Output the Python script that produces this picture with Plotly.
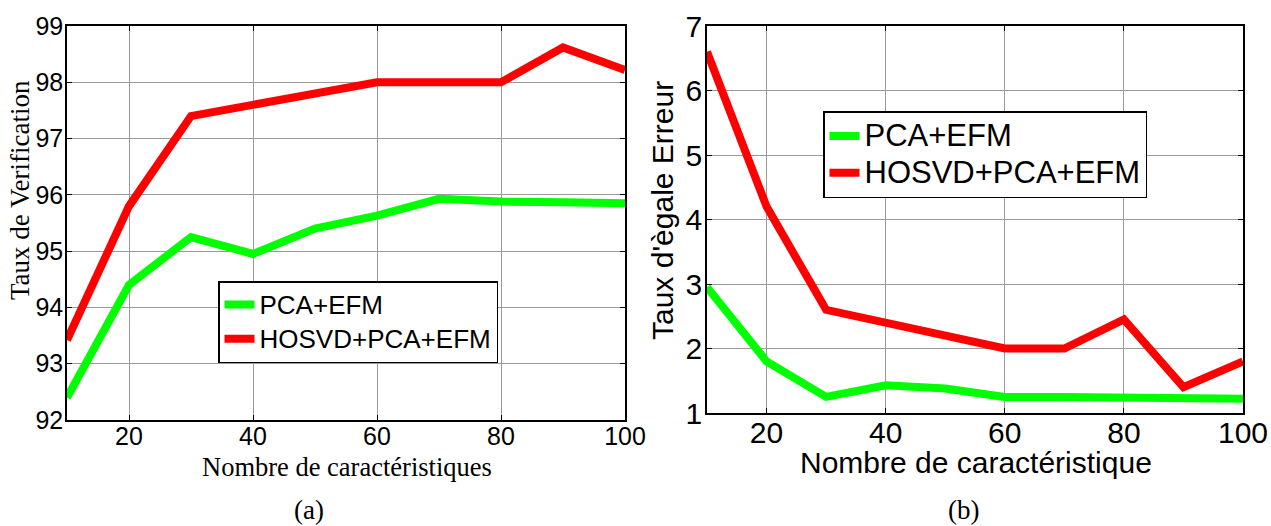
import plotly.graph_objects as go

W, H = 1271, 526

# Feature counts (x) shared by both panels
n_features = [10, 20, 30, 40, 50, 60, 70, 80, 90, 100]

# (a) verification rate (%)
verif_pca_efm = [92.4, 94.4, 95.25, 94.95, 95.4, 95.63, 95.93, 95.88, 95.87, 95.85]
verif_hosvd = [93.42, 95.8, 97.4, 97.6, 97.8, 98.0, 98.0, 98.0, 98.62, 98.22]

# (b) equal error rate (%)
eer_pca_efm = [2.95, 1.8, 1.25, 1.43, 1.38, 1.25, 1.25, 1.25, 1.22, 1.22]
eer_hosvd = [6.6, 4.2, 2.6, 2.4, 2.2, 2.0, 2.0, 2.45, 1.4, 1.8]

names = ["PCA+EFM", "HOSVD+PCA+EFM"]
colors = ["#00ff00", "#ff0000"]
x_ticks = [20, 40, 60, 80, 100]

SANS = "Liberation Sans, Arial, sans-serif"
SERIF = "Liberation Serif, Times New Roman, serif"


def sized(text, px):
    # legend rows keep a compact height; the label itself is drawn larger
    return f"<span style='font-size:{px}px'>{text}</span>"


fig = go.Figure()
for ys, name, col in zip([verif_pca_efm, verif_hosvd], names, colors):
    fig.add_trace(go.Scatter(x=n_features, y=ys, mode="lines", name=sized(name, 26),
                             line=dict(color=col, width=8),
                             xaxis="x", yaxis="y", legend="legend"))
for ys, name, col in zip([eer_pca_efm, eer_hosvd], names, colors):
    fig.add_trace(go.Scatter(x=n_features, y=ys, mode="lines", name=sized(name, 31),
                             line=dict(color=col, width=8),
                             xaxis="x2", yaxis="y2", legend="legend2"))


def px_x(p):
    return p / W


def px_y(p):
    return 1 - p / H


def axis_style(size, standoff):
    return dict(
        showline=True, linecolor="black", linewidth=1.5, mirror="allticks",
        ticks="inside", ticklen=5, tickcolor="black", automargin=False,
        showgrid=True, gridcolor="#9a9a9a", gridwidth=1,
        zeroline=False, tickfont=dict(family=SANS, size=size, color="black"),
        ticklabelstandoff=standoff,
    )


fig.update_layout(
    width=W, height=H,
    margin=dict(l=0, r=0, t=0, b=0, autoexpand=False),
    paper_bgcolor="white", plot_bgcolor="white",
    xaxis=dict(domain=[px_x(67), px_x(625)], range=[10, 100], tickvals=x_ticks,
               anchor="y", **axis_style(25, -7)),
    yaxis=dict(domain=[px_y(420), px_y(26)], range=[92, 99], dtick=1,
               anchor="x", **axis_style(25, -3)),
    xaxis2=dict(domain=[px_x(707), px_x(1243)], range=[10, 100], tickvals=x_ticks,
                anchor="y2", **axis_style(30, -8)),
    yaxis2=dict(domain=[px_y(413), px_y(26)], range=[1, 7], dtick=1,
                anchor="x2", **axis_style(30, -3)),
    legend=dict(x=px_x(218), y=px_y(281), xanchor="left", yanchor="top",
                bgcolor="white", bordercolor="black", borderwidth=1.5,
                font=dict(family=SANS, size=24, color="black"),
                tracegroupgap=0, itemwidth=30),
    legend2=dict(x=px_x(823), y=px_y(111), xanchor="left", yanchor="top",
                 bgcolor="white", bordercolor="black", borderwidth=1.5,
                 font=dict(family=SANS, size=26, color="black"),
                 tracegroupgap=0, itemwidth=30),
    showlegend=True,
)

annotations = [
    dict(text="Nombre de caractéristiques", x=px_x(347), y=px_y(467),
         font=dict(family=SERIF, size=26.5, color="black")),
    dict(text="Taux de Verification", x=px_x(20), y=px_y(190), textangle=-90,
         font=dict(family=SERIF, size=27, color="black")),
    dict(text="Nombre de caractéristique", x=px_x(976), y=px_y(462),
         font=dict(family=SANS, size=30, color="black")),
    dict(text="Taux d'ègale Erreur", x=px_x(662), y=px_y(211), textangle=-90,
         font=dict(family=SANS, size=30, color="black")),
    dict(text="(a)", x=px_x(309), y=px_y(510),
         font=dict(family=SERIF, size=27, color="black")),
    dict(text="(b)", x=px_x(963), y=px_y(510),
         font=dict(family=SERIF, size=27, color="black")),
]
for a in annotations:
    a.update(xref="paper", yref="paper", showarrow=False,
             xanchor="center", yanchor="middle")
fig.update_layout(annotations=annotations)

fig.write_html("out.html")
